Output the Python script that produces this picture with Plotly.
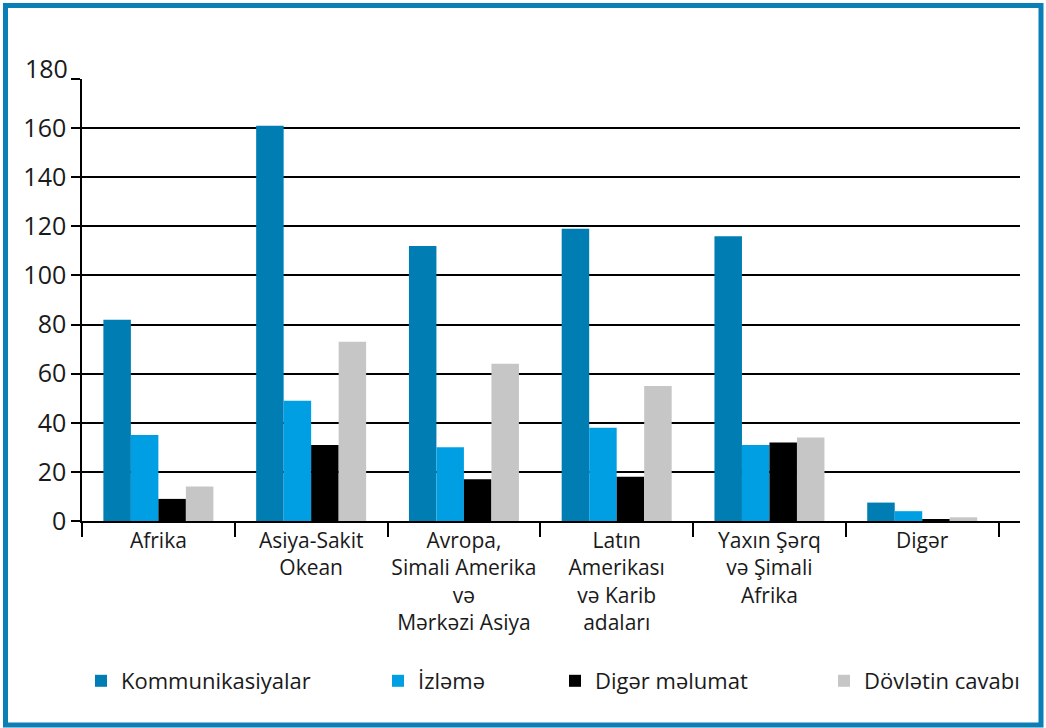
import plotly.graph_objects as go

categories = ["Afrika", "Asiya-Sakit Okean", "Avropa, Simali Amerika və Mərkəzi Asiya",
              "Latın Amerikası və Karib adaları", "Yaxın Şərq və Şimali Afrika", "Digər"]
category_labels = ["Afrika", "Asiya-Sakit<br>Okean", "Avropa,<br>Simali Amerika<br>və<br>Mərkəzi Asiya",
                   "Latın<br>Amerikası<br>və Karib<br>adaları", "Yaxın Şərq<br>və Şimali<br>Afrika", "Digər"]

series_names = ["Kommunikasiyalar", "İzləmə", "Digər məlumat", "Dövlətin cavabı"]
kommunikasiyalar = [82, 161, 112, 119, 116, 7.5]
izleme = [35, 49, 30, 38, 31, 4]
diger_melumat = [9, 31, 17, 18, 32, 0.7]
dovletin_cavabi = [14, 73, 64, 55, 34, 1.5]

y_ticks = [0, 20, 40, 60, 80, 100, 120, 140, 160, 180]

colors = ["#007DB2", "#009FE3", "#000000", "#C6C6C6"]
values = [kommunikasiyalar, izleme, diger_melumat, dovletin_cavabi]

FONT = "Open Sans"
W, H = 1046, 728
L, R, T, B = 82, 26, 79, 207
pw, ph = W - L - R, H - T - B

def px_x(px):
    return (px - L) / pw

def px_y(py):
    return (H - B - py) / ph

fig = go.Figure()
legend_ids = ["legend", "legend2", "legend3", "legend4"]
legend_px = [93, 390, 567, 836]
for name, vals, col, lid in zip(series_names, values, colors, legend_ids):
    fig.add_trace(go.Bar(x=categories, y=vals, name=name, marker=dict(color=col, line=dict(width=0)),
                         legend=lid))

layout_legends = {}
for lid, sx in zip(legend_ids, legend_px):
    layout_legends[lid] = dict(x=px_x(sx - 12), xanchor="left", y=px_y(681), yanchor="middle",
                               orientation="h", font=dict(family=FONT, size=22, color="#1a1a1a"),
                               bgcolor="rgba(0,0,0,0)", itemclick=False)

fig.update_layout(
    width=W, height=H,
    margin=dict(l=L, r=R, t=T, b=B),
    paper_bgcolor="white", plot_bgcolor="white",
    barmode="group", bargap=0.28, bargroupgap=0,
    font=dict(family=FONT, color="#1a1a1a"),
    showlegend=True,
    **layout_legends,
)

fig.update_xaxes(
    type="category", categoryorder="array", categoryarray=categories,
    tickvals=categories, ticktext=category_labels, tickangle=0,
    range=[-0.5, 5.64], tickson="boundaries", ticks="outside", ticklen=14, tickwidth=1.5,
    tickcolor="#000", showline=True, linecolor="#000", linewidth=1.5, showgrid=False,
    tickfont=dict(family=FONT, size=21, color="#1a1a1a"),
)
fig.update_yaxes(
    range=[0, 180], tickvals=y_ticks, ticktext=[str(v) if v != 180 else "" for v in y_ticks],
    ticks="outside", ticklen=9, tickwidth=1.5, tickcolor="#000",
    showgrid=True, gridcolor="#000", gridwidth=1.5, zeroline=False,
    showline=True, linecolor="#000", linewidth=1.5,
    tickfont=dict(family=FONT, size=25, color="#1a1a1a"),
)

fig.add_annotation(text="180", x=0, xref="paper", xanchor="right", xshift=-12,
                   y=180, yref="y", yanchor="middle", yshift=11, showarrow=False,
                   font=dict(family=FONT, size=25, color="#1a1a1a"))

fig.add_shape(type="rect", xref="paper", yref="paper",
              x0=px_x(5.5), x1=px_x(1041), y0=px_y(725), y1=px_y(5.5),
              line=dict(color="#0A7FB5", width=5), fillcolor="rgba(0,0,0,0)", layer="above")

fig.write_html("out.html", config={"displayModeBar": False},
               post_script="document.body.style.margin='0';")
